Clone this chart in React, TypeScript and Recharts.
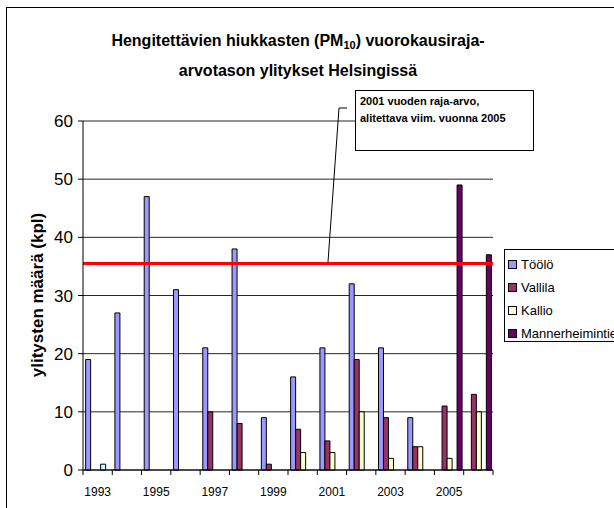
import React from 'react';
import { BarChart, Bar, XAxis, YAxis, CartesianGrid, ReferenceLine } from 'recharts';

const YEARS = ['1993', '1994', '1995', '1996', '1997', '1998', '1999', '2000', '2001', '2002', '2003', '2004', '2005', '2006'];
const TOOLO = [19, 27, 47, 31, 21, 38, 9, 16, 21, 32, 21, 9, null, null];
const VALLILA = [null, null, null, null, 10, 8, 1, 7, 5, 19, 9, 4, 11, 13];
const KALLIO = [null, null, null, null, null, null, null, 3, 3, 10, 2, 4, 2, 10];
const MUU = [1, null, null, null, null, null, null, null, null, null, null, null, null, null];
const MANNERHEIMINTIE = [null, null, null, null, null, null, null, null, null, null, null, null, 49, 37];
const Y_TICKS = [0, 10, 20, 30, 40, 50, 60];
const RAJA_ARVO = 35.5;

const SERIES = [
  { key: 'toolo', name: 'Töölö', color: '#9999FF', legend: true },
  { key: 'vallila', name: 'Vallila', color: '#993366', legend: true },
  { key: 'kallio', name: 'Kallio', color: '#FFFFCC', legend: true },
  { key: 'muu', name: '', color: '#CCFFFF', legend: false },
  { key: 'mannerheimintie', name: 'Mannerheimintie', color: '#660066', legend: true },
];

const data = YEARS.map((year, i) => ({
  year,
  toolo: TOOLO[i],
  vallila: VALLILA[i],
  kallio: KALLIO[i],
  muu: MUU[i],
  mannerheimintie: MANNERHEIMINTIE[i],
}));

const FONT = '"Liberation Sans", Arial, sans-serif';
const PLOT_LEFT = 83;
const PLOT_RIGHT = 493;
const BAND = (PLOT_RIGHT - PLOT_LEFT) / YEARS.length;

const YearTick = (props: any) => {
  const { x, y, payload, index } = props;
  const year = Number(payload.value);
  return (
    <g>
      <line x1={x - BAND / 2} x2={x - BAND / 2} y1={y} y2={y + 5} stroke="#000" />
      {index === YEARS.length - 1 && (
        <line x1={x + BAND / 2} x2={x + BAND / 2} y1={y} y2={y + 5} stroke="#000" />
      )}
      {year % 2 === 1 && (
        <text x={x} y={y + 26} textAnchor="middle" fontSize={12} fontFamily={FONT} fill="#000">
          {payload.value}
        </text>
      )}
    </g>
  );
};

export default function App() {
  return (
    <div style={{ position: 'relative', width: 614, height: 508, overflow: 'hidden', background: '#fff', fontFamily: FONT }}>
      <style>{`body { margin: 0; }`}</style>
      <div style={{ position: 'absolute', left: 6, top: 7, width: 700, height: 600, borderLeft: '1px solid #000', borderTop: '1px solid #000' }} />

      <div style={{ position: 'absolute', left: 0, top: 26, width: 596, textAlign: 'center', fontWeight: 'bold', fontSize: 16, lineHeight: '30px', color: '#000' }}>
        Hengitettävien hiukkasten (PM<sub style={{ fontSize: 11, verticalAlign: -3, lineHeight: 0 }}>10</sub>) vuorokausiraja-
        <br />
        arvotason ylitykset Helsingissä
      </div>

      <div style={{ position: 'absolute', left: 0, top: 0 }}>
        <BarChart
          width={614}
          height={508}
          data={data}
          margin={{ top: 121, right: 614 - PLOT_RIGHT, bottom: 8, left: 0 }}
          barGap={0}
          barCategoryGap="9%"
        >
          <CartesianGrid vertical={false} stroke="#000" strokeOpacity={0.85} />
          <XAxis
            dataKey="year"
            interval={0}
            height={30}
            tickSize={0}
            tickMargin={0}
            tickLine={false}
            axisLine={{ stroke: '#000' }}
            tick={<YearTick />}
          />
          <YAxis
            width={PLOT_LEFT}
            domain={[0, 60]}
            ticks={Y_TICKS}
            interval={0}
            tickSize={5}
            tickMargin={5}
            axisLine={{ stroke: '#000' }}
            tickLine={{ stroke: '#000' }}
            tick={{ fontSize: 17, fill: '#000', fontFamily: FONT }}
          />
          <YAxis yAxisId="right" orientation="right" width={0} domain={[0, 60]} tick={false} tickLine={false} axisLine={{ stroke: '#000' }} />
          {SERIES.map((s) => (
            <Bar
              key={s.key}
              dataKey={s.key}
              name={s.name}
              fill={s.color}
              stroke="#000"
              strokeWidth={1}
              isAnimationActive={false}
            />
          ))}
          <ReferenceLine y={RAJA_ARVO} stroke="#FF0000" strokeWidth={3} />
        </BarChart>
      </div>

      <div
        style={{
          position: 'absolute',
          left: 38,
          top: 295,
          transform: 'translate(-50%, -50%) rotate(-90deg)',
          whiteSpace: 'nowrap',
          fontWeight: 'bold',
          fontSize: 17,
          color: '#000',
        }}
      >
        ylitysten määrä (kpl)
      </div>

      <svg style={{ position: 'absolute', left: 0, top: 0 }} width={614} height={508}>
        <polyline points="347,108 339,108 328,262" fill="none" stroke="#000" strokeWidth={1} />
      </svg>

      <div
        style={{
          position: 'absolute',
          left: 355,
          top: 90,
          width: 179,
          height: 61,
          boxSizing: 'border-box',
          border: '1px solid #000',
          background: '#fff',
          padding: '2px 4px',
          fontWeight: 'bold',
          fontSize: 11,
          lineHeight: '17px',
          color: '#000',
        }}
      >
        2001 vuoden raja-arvo,
        <br />
        alitettava viim. vuonna 2005
      </div>

      <div
        style={{
          position: 'absolute',
          left: 504,
          top: 249,
          width: 140,
          height: 93,
          boxSizing: 'border-box',
          border: '1px solid #000',
          background: '#fff',
          paddingTop: 3,
        }}
      >
        {SERIES.filter((s) => s.legend).map((s) => (
          <div key={s.key} style={{ display: 'flex', alignItems: 'center', height: 23, fontSize: 13, color: '#000', whiteSpace: 'nowrap' }}>
            <span style={{ display: 'inline-block', width: 7, height: 7, border: '1px solid #000', background: s.color, marginLeft: 3, marginRight: 4 }} />
            {s.name}
          </div>
        ))}
      </div>
    </div>
  );
}
